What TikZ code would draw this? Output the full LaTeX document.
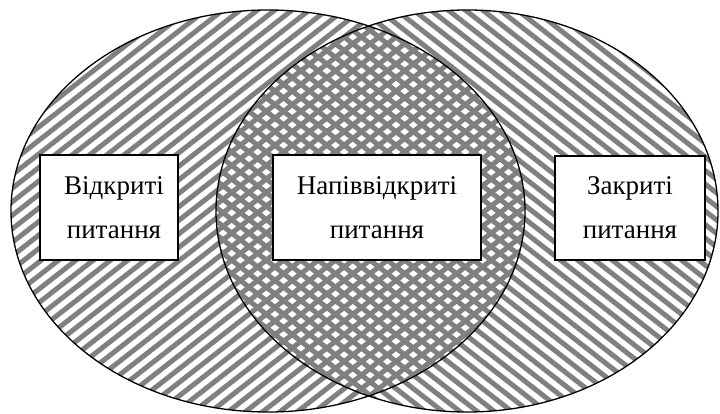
\documentclass[tikz,border=0pt]{standalone}
\usepackage{fontspec}
\setmainfont{Liberation Serif}
\tikzset{
  hatch/.style={draw=black!50,line width=5pt},
  outline/.style={draw=black,line width=1.3pt},
  labelbox/.style={draw=black,line width=1.2pt,fill=white,align=center,inner sep=0pt,
    font=\fontsize{27}{44}\selectfont},
}
\begin{document}
\begin{tikzpicture}[x=1pt,y=-1pt]
\useasboundingbox (0,0) rectangle (720,414);
\begin{scope}
  \clip (268,211) ellipse [x radius=257,y radius=201];
  \foreach \k in {0,...,75} {
    \draw[hatch] ({\k*17.3},-5) -- ({\k*17.3-536},414);
  }
\end{scope}
\begin{scope}
  \clip (467,211) ellipse [x radius=251,y radius=201];
  \foreach \k in {0,...,75} {
    \draw[hatch] ({\k*17.3-540},-5) -- ({\k*17.3-4},414);
  }
\end{scope}
\draw[outline] (268,211) ellipse [x radius=257,y radius=201];
\draw[outline] (467,211) ellipse [x radius=251,y radius=201];
\node[labelbox,minimum width=138pt,minimum height=105pt] (open) at (109,207.5) {\hspace*{10pt}Відкриті\\\hspace*{10pt}питання};
\node[labelbox,minimum width=208pt,minimum height=105pt] (semi) at (377,207.5) {Напіввідкриті\\питання};
\node[labelbox,minimum width=150pt,minimum height=104pt] (closed) at (630,208) {Закриті\\питання};
\end{tikzpicture}
\end{document}
